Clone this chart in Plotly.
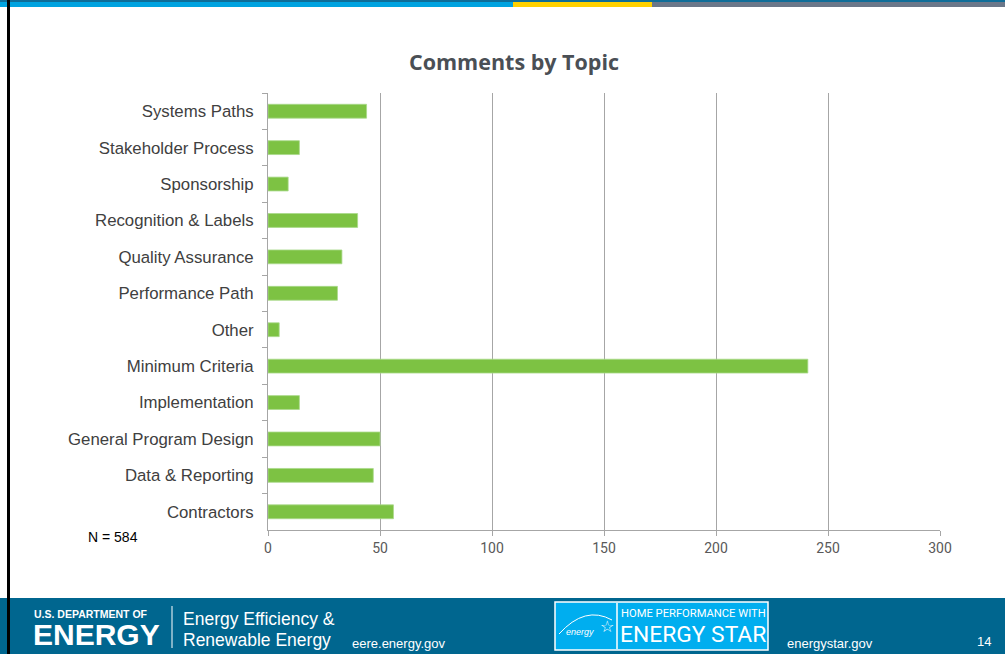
import plotly.graph_objects as go

topics = ["Systems Paths", "Stakeholder Process", "Sponsorship", "Recognition & Labels",
          "Quality Assurance", "Performance Path", "Other", "Minimum Criteria",
          "Implementation", "General Program Design", "Data & Reporting", "Contractors"]
comments = [44, 14, 9, 40, 33, 31, 5, 241, 14, 50, 47, 56]
x_ticks = [0, 50, 100, 150, 200, 250, 300]
title_text = "Comments by Topic"
n_text = "N = 584"

W, H = 1005, 654
L, R, T, B = 268, 940, 93, 530  # plot area in pixels


def px(x):
    return (x - L) / (R - L)


def py(y):
    return (B - y) / (B - T)


fig = go.Figure()
fig.add_trace(go.Bar(
    y=topics, x=comments, orientation="h",
    marker=dict(color="#7dc243", line=dict(color="#a9d98a", width=0.8)),
    hoverinfo="x+y",
))

shapes = []
# top stripe
shapes.append(dict(type="rect", xref="paper", yref="paper", x0=px(0), x1=px(513), y0=py(7), y1=py(0),
                   fillcolor="#00a3e0", line=dict(width=0), layer="below"))
shapes.append(dict(type="rect", xref="paper", yref="paper", x0=px(513), x1=px(652), y0=py(7), y1=py(0),
                   fillcolor="#ffd100", line=dict(width=0), layer="below"))
shapes.append(dict(type="rect", xref="paper", yref="paper", x0=px(652), x1=px(1005), y0=py(7), y1=py(0),
                   fillcolor="#6b7789", line=dict(width=0), layer="below"))
shapes.append(dict(type="rect", xref="paper", yref="paper", x0=px(0), x1=px(1005), y0=py(2), y1=py(0),
                   fillcolor="#0f6d98", line=dict(width=0), layer="below"))
# footer band
shapes.append(dict(type="rect", xref="paper", yref="paper", x0=px(0), x1=px(1005), y0=py(654), y1=py(598),
                   fillcolor="#00668f", line=dict(width=0), layer="below"))
# left black border
shapes.append(dict(type="rect", xref="paper", yref="paper", x0=px(7), x1=px(10), y0=py(654), y1=py(0),
                   fillcolor="#000000", line=dict(width=0), layer="above"))
# DOE separator
shapes.append(dict(type="line", xref="paper", yref="paper", x0=px(172), x1=px(172), y0=py(648), y1=py(606),
                   line=dict(color="#ffffff", width=1)))
# ENERGY STAR logo box
shapes.append(dict(type="rect", xref="paper", yref="paper", x0=px(555), x1=px(768), y0=py(650), y1=py(602),
                   fillcolor="#00aeef", line=dict(color="#ffffff", width=1.5)))
shapes.append(dict(type="line", xref="paper", yref="paper", x0=px(617), x1=px(617), y0=py(649), y1=py(603),
                   line=dict(color="#ffffff", width=1.5)))
shapes.append(dict(type="path", xref="paper", yref="paper",
                   path=f"M {px(559)},{py(634)} Q {px(585)},{py(605)} {px(612)},{py(620)}",
                   line=dict(color="#ffffff", width=1)))

annotations = []


def ann(text, x, y, size, color="#ffffff", family="Liberation Sans, Arial", xanchor="left", yanchor="middle"):
    annotations.append(dict(text=text, xref="paper", yref="paper", x=px(x), y=py(y), showarrow=False,
                            xanchor=xanchor, yanchor=yanchor,
                            font=dict(size=size, color=color, family=family)))


ann(f"<b>{title_text}</b>", 514, 62, 21.5, color="#4a4f55", family="Open Sans", xanchor="center")
ann(n_text, 86, 537, 14, color="#000000")
ann("<b>U.S. DEPARTMENT OF</b>", 32, 614, 10.5)
ann("<b>ENERGY</b>", 31, 634, 30)
ann("Energy Efficiency &", 181, 619, 17.5)
ann("Renewable Energy", 181, 640, 17.5)
ann("eere.energy.gov", 350, 643, 13)
ann("HOME PERFORMANCE WITH", 619, 613, 11.2, family="Roboto")
ann("ENERGY STAR", 618, 634, 22.8, family="Roboto")
ann("<i>energy</i>", 580, 632, 9, xanchor="center")
ann("☆", 607, 626, 16, xanchor="center")
ann("energystar.gov", 785, 643, 13)
ann("14", 975, 641, 13)

fig.update_layout(
    width=W, height=H,
    margin=dict(l=L, r=W - R, t=T, b=H - B, autoexpand=False),
    paper_bgcolor="#ffffff", plot_bgcolor="#ffffff",
    showlegend=False, bargap=0.62,
    shapes=shapes, annotations=annotations,
    xaxis=dict(range=[0, 300], tickvals=x_ticks, showgrid=True, gridcolor="#a6a6a6", gridwidth=1,
               zeroline=False, showline=True, linecolor="#a6a6a6", linewidth=1,
               ticks="outside", ticklen=5, tickcolor="#a6a6a6",
               tickfont=dict(family="Liberation Sans Narrow, Arial Narrow, Roboto", size=14, color="#595959"),
               fixedrange=True),
    yaxis=dict(categoryorder="array", categoryarray=topics, autorange="reversed",
               showline=True, linecolor="#a6a6a6", linewidth=1,
               ticks="outside", ticklen=5, tickcolor="#a6a6a6", tickson="boundaries",
               showgrid=False, ticklabelstandoff=10,
               tickfont=dict(family="Liberation Sans, Arial", size=16.8, color="#404040"),
               fixedrange=True),
)

fig.write_html("out.html", config={"displayModeBar": False},
               post_script="document.body.style.margin='0';document.body.style.overflow='hidden';")
